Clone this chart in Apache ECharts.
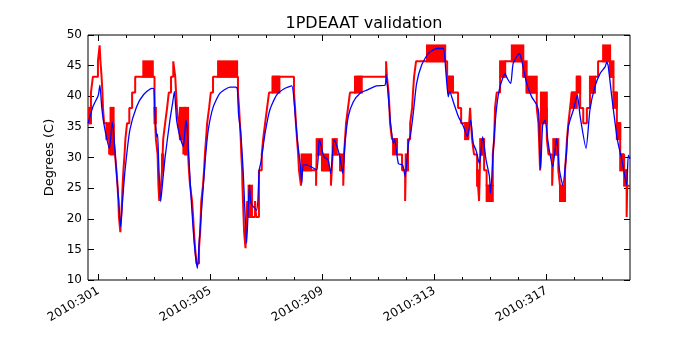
<!DOCTYPE html>
<html>
<head>
<meta charset="utf-8">
<script src="https://cdn.jsdelivr.net/npm/echarts@6/dist/echarts.min.js"></script>
<style>
  html, body { margin: 0; padding: 0; background: #fff; }
  #chart { width: 700px; height: 350px; }
</style>
</head>
<body>
<div id="chart"></div>
<script>
// axis ticks (day of year 2010)
const majorDays = [301, 305, 309, 313, 317];
const minorDays = [301, 302, 303, 304, 305, 306, 307, 308, 309, 310, 311, 312, 313, 314, 315, 316, 317, 318, 319];

// telemetry (red) step trace: day, degrees C
const redT = [300.625, 300.73, 300.80, 300.98, 301.04, 301.07, 301.11, 301.14, 301.16, 301.20,
  301.29, 301.38, 301.43, 301.54, 301.59, 301.64, 301.68, 301.71, 301.73, 301.78,
  301.81, 301.84, 301.86, 301.89, 301.93, 301.96, 302.02, 302.10, 302.20, 302.31,
  303.00, 303.05, 303.11, 303.14, 303.17, 303.23, 303.27, 303.31, 303.38, 303.45,
  303.51, 303.59, 303.67, 303.74, 303.77, 303.80, 303.86, 303.91, 304.03, 304.05,
  304.09, 304.20, 304.23, 304.27, 304.34, 304.38, 304.41, 304.45, 304.50, 304.59,
  304.63, 304.65, 304.67, 304.73, 304.77, 304.80, 304.84, 304.88, 304.95, 305.01,
  305.09, 305.98, 306.02, 306.05, 306.08, 306.10, 306.13, 306.14, 306.16, 306.18,
  306.20, 306.25, 306.31, 306.36, 306.59, 306.63, 306.73, 306.83, 306.88, 306.95,
  307.02, 307.09, 307.22, 307.98, 308.02, 308.05, 308.09, 308.13, 308.16, 308.23,
  308.25, 308.77, 308.79, 308.98, 309.30, 309.33, 309.36, 309.63, 309.74, 309.77,
  309.84, 309.91, 309.98, 310.22, 311.27, 311.30, 311.36, 311.39, 311.41, 311.48,
  311.66, 311.84, 311.95, 311.97, 312.05, 312.13, 312.20, 312.23, 312.27, 312.34,
  313.45, 313.66, 313.84, 313.95, 314.20, 314.27, 314.30, 314.34, 314.41, 314.52,
  314.59, 314.63, 314.77, 314.86, 315.08, 315.13, 315.16, 315.22, 315.34, 315.52,
  316.17, 316.29, 316.65, 316.71, 316.77, 316.80, 317.01, 317.07, 317.20, 317.24,
  317.42, 317.48, 317.66, 317.70, 317.73, 317.78, 317.84, 317.90, 318.08, 318.20,
  318.31, 318.44, 318.55, 318.73, 318.84, 319.27, 319.39, 319.51, 319.63, 319.77,
  319.86, 319.88, 319.98];
const redV = [35.6, 40.6, 43.2, 45.7, 48.3, 45.7, 43.2, 40.6, 38.1, 35.6,
  33.0, 30.5, 35.6, 33.0, 30.5, 27.9, 25.4, 22.9, 20.3, 17.8,
  20.3, 22.9, 25.4, 27.9, 30.5, 33.0, 35.6, 38.1, 40.6, 43.2,
  38.1, 33.0, 30.5, 25.4, 22.9, 25.4, 27.9, 33.0, 35.6, 38.1,
  40.6, 43.2, 45.7, 43.2, 40.6, 38.1, 35.6, 33.0, 30.5, 33.0,
  35.6, 30.5, 27.9, 25.4, 22.9, 20.3, 17.8, 15.2, 12.7, 15.2,
  17.8, 20.3, 22.9, 25.4, 27.9, 30.5, 33.0, 35.6, 38.1, 40.6,
  43.2, 40.6, 38.1, 35.6, 33.0, 30.5, 27.9, 25.4, 22.9, 20.3,
  17.8, 15.2, 22.9, 20.3, 22.9, 20.3, 27.9, 30.5, 33.0, 35.6,
  38.1, 40.6, 43.2, 40.6, 38.1, 35.6, 33.0, 30.5, 27.9, 25.4,
  27.9, 25.4, 30.5, 27.9, 25.4, 27.9, 30.5, 27.9, 25.4, 30.5,
  35.6, 38.1, 40.6, 43.2, 45.7, 43.2, 40.6, 38.1, 35.6, 33.0,
  30.5, 27.9, 22.9, 27.9, 33.0, 35.6, 38.1, 40.6, 43.2, 45.7,
  43.2, 40.6, 38.1, 35.6, 33.0, 38.1, 35.6, 33.0, 30.5, 27.9,
  22.9, 30.5, 27.9, 25.4, 30.5, 33.0, 38.1, 40.6, 43.2, 45.7,
  43.2, 40.6, 38.1, 35.6, 27.9, 38.1, 33.0, 30.5, 25.4, 30.5,
  27.9, 25.4, 27.9, 30.5, 33.0, 35.6, 38.1, 40.6, 43.2, 38.1,
  35.6, 38.1, 40.6, 43.2, 45.7, 43.2, 40.6, 35.6, 30.5, 27.9,
  20.3, 25.4, 25.4];

// telemetry toggling between two levels (filled blocks): start, end, low, high
const bandT0 = [300.625, 301.29, 301.43, 302.60, 303.00, 303.27, 303.91, 304.09, 305.27, 306.36,
  307.22, 308.25, 308.79, 308.98, 309.36, 309.63, 310.16, 311.52, 311.97, 312.73,
  313.48, 314.09, 314.52, 314.63, 314.86, 315.34, 315.76, 316.17, 316.29, 316.80,
  317.24, 317.48, 317.90, 318.08, 318.55, 319.02, 319.27, 319.39, 319.51, 319.63, 319.77];
const bandT1 = [300.73, 301.38, 301.54, 302.94, 303.05, 303.31, 304.09, 304.20, 305.95, 306.48,
  307.46, 308.59, 308.98, 309.20, 309.51, 309.73, 310.40, 311.66, 312.05, 313.38,
  313.66, 314.20, 314.59, 314.77, 315.08, 315.52, 316.17, 316.29, 316.65, 317.01,
  317.42, 317.66, 318.08, 318.20, 318.73, 319.27, 319.39, 319.51, 319.63, 319.74, 319.86];
const bandLo = [35.6, 33.0, 30.5, 43.2, 35.6, 27.9, 33.0, 30.5, 43.2, 20.3,
  40.6, 27.9, 30.5, 27.9, 30.5, 27.9, 40.6, 30.5, 27.9, 45.7,
  40.6, 33.0, 25.4, 30.5, 22.9, 43.2, 45.7, 43.2, 40.6, 35.6,
  30.5, 22.9, 38.1, 40.6, 40.6, 45.7, 43.2, 38.1, 33.0, 27.9, 25.4];
const bandHi = [38.1, 35.6, 38.1, 45.7, 38.1, 30.5, 38.1, 38.1, 45.7, 25.4,
  43.2, 30.5, 33.0, 30.5, 33.0, 30.5, 43.2, 33.0, 30.5, 48.3,
  43.2, 35.6, 27.9, 33.0, 25.4, 45.7, 48.3, 45.7, 43.2, 40.6,
  33.0, 25.4, 40.6, 43.2, 43.2, 48.3, 45.7, 40.6, 35.6, 30.5, 27.9];

// model prediction (blue): day, degrees C
const blueT = [300.63, 300.80, 300.97, 301.00, 301.05, 301.12, 301.22, 301.39, 301.49, 301.55,
  301.65, 301.72, 301.79, 301.86, 301.95, 302.12, 302.36, 302.60, 302.90, 302.98,
  303.02, 303.08, 303.11, 303.15, 303.22, 303.30, 303.38, 303.55, 303.65, 303.71,
  303.79, 303.91, 304.03, 304.12, 304.17, 304.30, 304.42, 304.53, 304.60, 304.69,
  304.80, 304.92, 305.10, 305.34, 305.70, 305.90, 305.96, 306.00, 306.08, 306.17,
  306.29, 306.39, 306.45, 306.65, 306.74, 306.80, 306.95, 307.12, 307.36, 307.66,
  307.90, 308.02, 308.10, 308.20, 308.26, 308.31, 308.42, 308.79, 308.88, 308.93,
  309.05, 309.20, 309.29, 309.41, 309.48, 309.62, 309.72, 309.80, 309.92, 310.10,
  310.34, 310.58, 310.93, 311.23, 311.27, 311.35, 311.43, 311.53, 311.57, 311.71,
  311.86, 311.95, 312.07, 312.15, 312.24, 312.36, 312.54, 312.78, 313.08, 313.31,
  313.41, 313.49, 313.54, 313.67, 313.85, 314.03, 314.17, 314.29, 314.38, 314.48,
  314.60, 314.72, 314.84, 314.96, 315.00, 315.12, 315.22, 315.34, 315.52, 315.60,
  315.72, 315.81, 316.03, 316.11, 316.29, 316.47, 316.65, 316.72, 316.77, 316.79,
  316.86, 316.95, 317.06, 317.22, 317.36, 317.46, 317.58, 317.70, 317.78, 317.96,
  318.10, 318.20, 318.41, 318.55, 318.73, 318.91, 319.09, 319.15, 319.20, 319.33,
  319.51, 319.57, 319.69, 319.86, 319.92, 319.98];
const blueV = [35.6, 38.3, 39.9, 40.3, 41.8, 38.0, 34.8, 31.5, 35.8, 33.5,
  27.0, 23.0, 18.7, 23.0, 28.0, 34.5, 38.3, 40.2, 41.3, 41.2,
  36.7, 33.4, 33.8, 29.0, 22.8, 26.5, 30.1, 36.1, 39.0, 40.8,
  36.1, 33.4, 31.8, 36.1, 34.5, 24.0, 16.0, 11.9, 16.5, 22.0,
  29.0, 34.5, 38.3, 40.5, 41.5, 41.5, 41.2, 37.2, 34.0, 27.4,
  16.0, 25.5, 22.5, 21.4, 28.0, 29.2, 34.0, 37.8, 40.2, 41.3,
  41.7, 37.2, 32.9, 29.0, 25.8, 28.8, 28.8, 28.0, 32.9, 32.3,
  30.1, 29.6, 27.4, 32.9, 32.3, 30.1, 27.4, 32.3, 36.7, 39.1,
  40.5, 41.0, 41.7, 41.8, 43.5, 39.9, 35.6, 32.3, 33.0, 29.0,
  28.8, 26.9, 32.3, 34.0, 37.2, 42.1, 45.1, 47.0, 47.8, 47.8,
  43.7, 39.9, 40.8, 39.1, 36.7, 35.1, 33.4, 36.1, 32.3, 31.2,
  29.0, 33.4, 29.6, 26.9, 24.2, 32.9, 38.3, 41.6, 43.7, 42.9,
  42.1, 45.4, 47.0, 45.9, 42.1, 39.9, 38.6, 37.2, 29.6, 28.2,
  35.3, 36.1, 32.3, 28.5, 33.1, 28.0, 25.5, 30.1, 35.1, 37.8,
  40.2, 36.7, 31.5, 37.8, 41.6, 43.7, 44.8, 45.6, 45.0, 39.9,
  33.4, 32.0, 29.6, 25.5, 30.4, 29.8];

const chart = echarts.init(document.getElementById("chart"));
const font = "DejaVu Sans";
const xMin = 300.625;
const xMax = 319.98;

const xBase = {
  type: "value",
  min: xMin,
  max: xMax,
  axisLine: { show: false },
  splitLine: { show: false },
};

chart.setOption({
  animation: false,
  backgroundColor: "#fff",
  title: {
    text: "1PDEAAT validation",
    left: 359,
    top: 11,
    textAlign: "center",
    textStyle: { fontFamily: font, fontSize: 16, fontWeight: "normal", color: "#000" },
  },
  grid: {
    left: 88, right: 70, top: 35, bottom: 70,
    show: true, borderColor: "#000", borderWidth: 1, backgroundColor: "transparent",
  },
  xAxis: [
    Object.assign({}, xBase, {
      position: "bottom",
      axisTick: { inside: true, length: 6, customValues: majorDays, lineStyle: { color: "#000" } },
      axisLabel: {
        customValues: majorDays,
        rotate: 30,
        margin: 10,
        fontFamily: font,
        fontSize: 12,
        color: "#000",
        formatter: (v) => "2010:" + v,
      },
    }),
    Object.assign({}, xBase, {
      position: "bottom",
      axisTick: { inside: true, length: 3, customValues: minorDays, lineStyle: { color: "#000" } },
      axisLabel: { show: false },
    }),
    Object.assign({}, xBase, {
      position: "top",
      axisTick: { inside: true, length: 6, customValues: majorDays, lineStyle: { color: "#000" } },
      axisLabel: { show: false },
    }),
    Object.assign({}, xBase, {
      position: "top",
      axisTick: { inside: true, length: 3, customValues: minorDays, lineStyle: { color: "#000" } },
      axisLabel: { show: false },
    }),
  ],
  yAxis: [
    {
      type: "value",
      min: 10,
      max: 50,
      interval: 5,
      position: "left",
      name: "Degrees (C)",
      nameLocation: "middle",
      nameGap: 32,
      nameTextStyle: { fontFamily: font, fontSize: 13, color: "#000" },
      axisLine: { show: false },
      splitLine: { show: false },
      axisTick: { inside: true, length: 6, lineStyle: { color: "#000" } },
      axisLabel: { fontFamily: font, fontSize: 12, color: "#000", margin: 6 },
    },
    {
      type: "value",
      min: 10,
      max: 50,
      interval: 5,
      position: "right",
      axisLine: { show: false },
      splitLine: { show: false },
      axisTick: { inside: true, length: 6, lineStyle: { color: "#000" } },
      axisLabel: { show: false },
    },
  ],
  series: [
    {
      name: "telemetry blocks",
      type: "custom",
      clip: true,
      renderItem: (params, api) => {
        const p0 = api.coord([api.value(0), api.value(3)]);
        const p1 = api.coord([api.value(1), api.value(2)]);
        return {
          type: "rect",
          shape: { x: p0[0] - 1, y: p0[1] - 1, width: p1[0] - p0[0] + 2, height: p1[1] - p0[1] + 2 },
          style: { fill: "#ff0000" },
        };
      },
      encode: { x: [0, 1], y: [2, 3] },
      data: bandT0.map((t, i) => [t, bandT1[i], bandLo[i], bandHi[i]]),
    },
    {
      name: "telemetry",
      type: "line",
      step: "end",
      showSymbol: false,
      lineStyle: { color: "#ff0000", width: 2 },
      data: redT.map((t, i) => [t, redV[i]]),
    },
    {
      name: "model",
      type: "line",
      smooth: 0.2,
      showSymbol: false,
      lineStyle: { color: "#0000ff", width: 1.3 },
      data: blueT.map((t, i) => [t, blueV[i]]),
    },
  ],
});
</script>
</body>
</html>
